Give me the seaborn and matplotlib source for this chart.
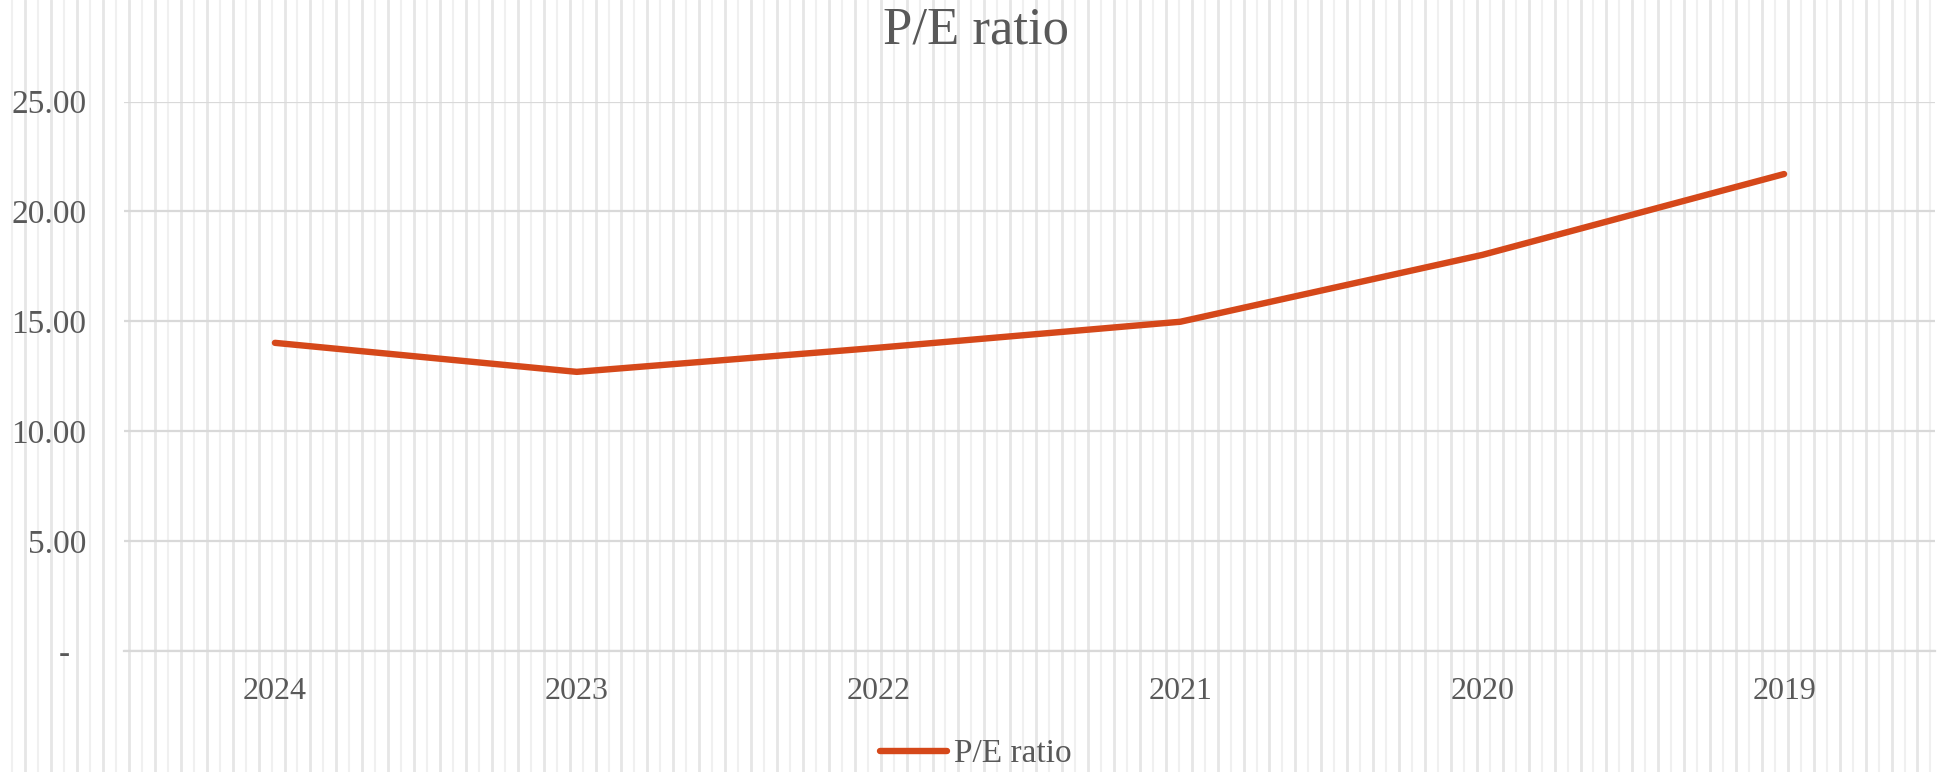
import numpy as np
import pandas as pd
import matplotlib
matplotlib.use("Agg")
import matplotlib.pyplot as plt
import seaborn as sns

# P/E ratio by year
years = ["2024", "2023", "2022", "2021", "2020", "2019"]
pe_ratio = [14.02, 12.70, 13.80, 14.98, 18.02, 21.70]
y_ticks = [0, 5, 10, 15, 20, 25]

df = pd.DataFrame({"year": years, "P/E ratio": pe_ratio})

sns.set_theme(style="white")
plt.rcParams["font.family"] = ["Liberation Serif", "DejaVu Serif"]

grey_text = "#595959"
line_color = "#D5481A"

fig = plt.figure(figsize=(19.4, 7.72), dpi=100)
fig.patch.set_facecolor("white")

# background: Excel-style light vertical pattern across the whole chart area
bg = fig.add_axes([0, 0, 1, 1], zorder=0)
bg.set_xlim(0, 1940)
bg.set_ylim(0, 772)
bg.axis("off")
step = 12.96
for i in range(1, 152):
    x = i * step - 0.6
    if i % 2 == 0:
        bg.axvline(x, color="#E6E6E6", lw=2.0)
    else:
        bg.axvline(x, color="#F0F0F0", lw=1.5)

ax = fig.add_axes([124 / 1940, 121 / 772, (1935 - 124) / 1940, (651 - 101.5) / 772], zorder=1)
ax.patch.set_alpha(0)

sns.lineplot(data=df, x="year", y="P/E ratio", sort=False, ax=ax,
             color=line_color, lw=4.6, solid_capstyle="round", label="P/E ratio")

ax.set_xlim(-0.5, len(years) - 0.5)
ax.set_ylim(0, 25)
ax.set_yticks(y_ticks)
ax.set_yticklabels(["-  " if v == 0 else f"{v:.2f}" for v in y_ticks])
ax.yaxis.grid(True, color="#D9D9D9", lw=1.6)
ax.xaxis.grid(False)
ax.set_axisbelow(True)
for s in ["top", "right", "left"]:
    ax.spines[s].set_visible(False)
ax.spines["bottom"].set_color("#D9D9D9")
ax.spines["bottom"].set_linewidth(1.6)

ax.tick_params(axis="y", length=0, pad=27, labelsize=24, labelcolor=grey_text)
ax.tick_params(axis="x", length=0, pad=19, labelsize=23, labelcolor=grey_text)
ax.set_xlabel("")
ax.set_ylabel("")

ax.get_legend().remove()
handles, labels = ax.get_legend_handles_labels()
fig.legend(handles, labels, loc="lower center", bbox_to_anchor=(0.503, -0.018),
           frameon=False, fontsize=24, handlelength=2.0, handletextpad=0.2,
           borderpad=0, labelcolor=grey_text)

fig.text(0.503, 1 - 30 / 772, "P/E ratio", ha="center", va="center",
         fontsize=38, color=grey_text)

fig.savefig("out.png", dpi=100, facecolor="white")
